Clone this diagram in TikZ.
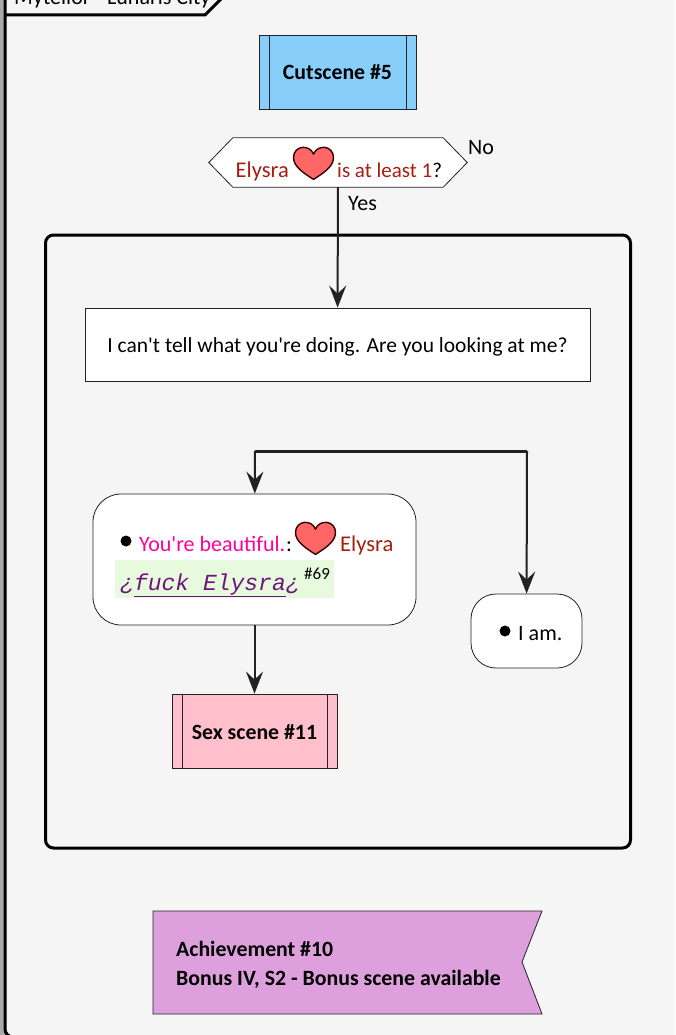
\documentclass[tikz,border=0pt]{standalone}
\usepackage{fontspec}
\usepackage{xcolor}
\setmainfont{Carlito}[Ligatures=TeXOff]
\setmonofont{Liberation Mono}
\usetikzlibrary{arrows.meta}
\definecolor{panelgray}{RGB}{245, 245, 245}
\definecolor{edgegray}{RGB}{170, 170, 170}
\definecolor{cutblue}{RGB}{135, 206, 250}
\definecolor{scenepink}{RGB}{255, 192, 203}
\definecolor{achievepurple}{RGB}{221, 160, 221}
\definecolor{heartred}{RGB}{255, 102, 102}
\definecolor{statred}{RGB}{165, 30, 15}
\definecolor{optionpink}{RGB}{255, 0, 153}
\definecolor{linkpurple}{RGB}{110, 20, 125}
\definecolor{linkgreen}{RGB}{232, 250, 222}
\definecolor{linedark}{RGB}{34, 34, 34}
\tikzset{
  x=1pt, y=-1pt,
  subscene/.style={draw=linedark, line width=0.8pt, minimum height=74pt, font=\fontsize{21.8}{26}\selectfont\bfseries,
    path picture={\draw[linedark, line width=0.8pt]
      ([xshift=10pt]path picture bounding box.north west) -- ([xshift=10pt]path picture bounding box.south west)
      ([xshift=-10pt]path picture bounding box.north east) -- ([xshift=-10pt]path picture bounding box.south east);}},
  choicebox/.style={draw=linedark, line width=0.8pt, fill=white},
  flowarrow/.style={draw=linedark, line width=2pt, -{Stealth[length=22pt, width=17pt, inset=8pt]}},
  plaintext/.style={inner sep=0pt, font=\fontsize{22}{26}\selectfont},
  heart/.pic={
    \draw[fill=heartred, draw=black!80!red, line width=1.4pt, line join=round, yscale=.87]
      (0,20) .. controls (-8,14) and (-20,6) .. (-20,-5) .. controls (-20,-19) and (-4,-21) .. (0,-9)
      .. controls (4,-21) and (20,-19) .. (20,-5) .. controls (20,6) and (8,14) .. (0,20) -- cycle;
  }
}
\begin{document}
\begin{tikzpicture}
\useasboundingbox (0,0) rectangle (675,1035);
\clip (0,0) rectangle (675,1035);
\fill[edgegray] (0,0) rectangle (675,1035);
\fill[panelgray, rounded corners=8pt] (5,-15) rectangle (690,1037);
\draw[black, line width=3pt, rounded corners=8pt] (5,-15) -- (5,1037) -- (40,1037);
% title tab
\coordinate (tabend) at (5,15);
\coordinate (tabcorner) at (205,15);
\coordinate (tabtop) at (224,-4);
\draw[black, line width=3pt] (tabend) -- (tabcorner) -- (tabtop);
\node[plaintext, anchor=base west] (title) at (14,5) {Mytellor - Lunaris City};

% cutscene
\node[subscene, fill=cutblue, minimum width=157pt] (cutscene) at (337.5,72) {\raisebox{-8pt}[8pt][8pt]{Cutscene \#5}};

% stat check
\node[minimum width=258pt, minimum height=49pt, inner sep=0pt] (check) at (338,162.5) {};
\draw[linedark, line width=0.8pt, fill=white] (check.west) -- ([xshift=24pt]check.north west) -- ([xshift=-24pt]check.north east) -- (check.east) -- ([xshift=-24pt]check.south east) -- ([xshift=24pt]check.south west) -- cycle;
\node[plaintext, text=statred, anchor=base west, font=\fontsize{22.5}{26}\selectfont] (checkname) at (235.5,178) {Elysra};
\pic at (313.5,162) {heart};
\node[plaintext, anchor=base west, font=\fontsize{21}{26}\selectfont] (checktext) at (337,178) {\textcolor{statred}{is at least 1}?};
\node[plaintext, anchor=base west] (no) at (468,155) {No};
\node[plaintext, anchor=base west] (yes) at (348,211) {Yes};

% group box
\node[draw=black, line width=3pt, rounded corners=8pt, minimum width=585pt, minimum height=613pt, inner sep=0pt] (group) at (338,541.5) {};

% message
\node[draw=linedark, line width=0.8pt, fill=white, minimum width=505pt, minimum height=73pt, inner sep=0pt, font=\fontsize{21.5}{26}\selectfont] (message) at (337.5,344.5) {\raisebox{-7.5pt}[8pt][8pt]{I can't tell what you're doing. Are you looking at me?}};
\draw[flowarrow] (check) -- (message);

% choices
\coordinate (forkleft) at (255,451);
\coordinate (forkright) at (527,451);
\draw[linedark, line width=3pt] (forkleft) -- (forkright);
\node[choicebox, rounded corners=28pt, minimum width=323pt, minimum height=131pt] (beautiful) at (254.5,559.5) {};
\node[choicebox, rounded corners=25pt, minimum width=111pt, minimum height=74pt] (iam) at (526.5,631) {};
\draw[flowarrow] (forkleft) -- (beautiful);
\draw[flowarrow] (forkright) -- (iam);

\fill[black] (126,541) circle (5.5pt);
\node[plaintext, text=optionpink, anchor=base west] (option) at (139,551) {You're beautiful.};
\node[plaintext, anchor=base west] (colon) at (286,551) {:};
\pic at (315.5,537) {heart};
\node[plaintext, text=statred, anchor=base west, font=\fontsize{22.5}{26}\selectfont] (optionname) at (340,551) {Elysra};
\fill[linkgreen] (115,560) rectangle (334,598);
\node[inner sep=0pt, anchor=base west, text=linkpurple, font=\fontsize{23}{26}\selectfont\ttfamily\itshape] (link) at (120,590) {¿\underline{fuck Elysra}¿};
\node[plaintext, anchor=base west, font=\fontsize{17}{20}\selectfont] (linkmark) at (304,579) {\#69};

\fill[black] (505,631) circle (5.5pt);
\node[plaintext, anchor=base west] (iamtext) at (518,640) {I am.};

% sex scene
\node[subscene, fill=scenepink, minimum width=165pt] (scene) at (254.5,731) {\raisebox{-8pt}[8pt][8pt]{Sex scene \#11}};
\draw[flowarrow] (beautiful) -- (scene);

% achievement
\draw[linedark, line width=0.8pt, fill=achievepurple] (153,911) -- (542,911) -- (522,962) -- (542,1014) -- (153,1014) -- cycle;
\node[plaintext, anchor=north west, align=left, font=\fontsize{21.8}{29}\selectfont\bfseries] (achievement) at (176,941) {Achievement \#10\\Bonus IV, S2 - Bonus scene available};
\end{tikzpicture}
\end{document}
